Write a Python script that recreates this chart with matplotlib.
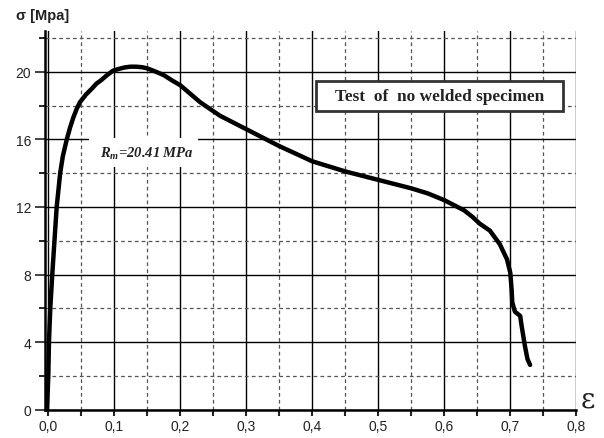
import numpy as np
import matplotlib
matplotlib.use("Agg")
import matplotlib.pyplot as plt
from matplotlib.patches import Rectangle
from matplotlib.ticker import MultipleLocator, FuncFormatter

plt.rcParams.update({
    "font.family": "Liberation Sans",
    "mathtext.fontset": "custom",
    "mathtext.it": "Liberation Serif:italic:bold",
    "mathtext.rm": "Liberation Serif:bold",
})

# strain / stress
strain = [-0.002, 0.0, 0.001, 0.003, 0.006, 0.0127, 0.018, 0.022, 0.028,
          0.033, 0.038, 0.043, 0.048, 0.057, 0.066, 0.073, 0.08, 0.089,
          0.098, 0.107, 0.115, 0.124, 0.133, 0.142, 0.15, 0.16, 0.175,
          0.187, 0.2, 0.215, 0.23, 0.245, 0.26, 0.28, 0.3, 0.325, 0.35,
          0.375, 0.4, 0.425, 0.45, 0.475, 0.5, 0.525, 0.55, 0.575, 0.6,
          0.615, 0.63, 0.643, 0.654, 0.669, 0.684, 0.695, 0.70, 0.702,
          0.703, 0.707, 0.715, 0.717, 0.722, 0.726, 0.73]
stress = [0.0, 2.0, 4.0, 6.0, 8.0, 12.0, 14.0, 15.0, 16.0,
          16.7, 17.3, 17.8, 18.2, 18.65, 19.0, 19.3, 19.5, 19.8,
          20.06, 20.17, 20.25, 20.3, 20.3, 20.27, 20.2, 20.05, 19.8,
          19.5, 19.2, 18.7, 18.2, 17.8, 17.4, 17.0, 16.6, 16.1, 15.6,
          15.15, 14.7, 14.4, 14.1, 13.85, 13.6, 13.35, 13.1, 12.8, 12.4,
          12.1, 11.8, 11.4, 11.0, 10.6, 9.8, 8.9, 8.1, 7.1,
          6.35, 5.8, 5.55, 5.0, 3.8, 3.0, 2.65]

x_ticks = [0.0, 0.1, 0.2, 0.3, 0.4, 0.5, 0.6, 0.7, 0.8]
y_ticks = [0, 4, 8, 12, 16, 20]

fig = plt.figure(figsize=(6.04, 4.39), dpi=100)
ax = fig.add_axes([45 / 604, 1 - 410.7 / 439, 531.3 / 604, 379 / 439])

ax.set_xlim(-0.005, 0.8)
ax.set_ylim(0, 22.43)

ax.xaxis.set_minor_locator(MultipleLocator(0.05))
ax.yaxis.set_minor_locator(MultipleLocator(2))
ax.set_xticks(x_ticks)
ax.set_yticks(y_ticks)
ax.xaxis.set_major_formatter(FuncFormatter(lambda v, p: f"{v:.1f}".replace(".", ",")))

# grid
ax.grid(which="major", color="black", lw=1.0, ls="-", zorder=1)
ax.grid(which="minor", color="#555555", lw=0.9, ls=(0, (3, 2.5)), zorder=1)
ax.set_axisbelow(True)

for s in ["top", "right"]:
    ax.spines[s].set_visible(False)
for s in ["left", "bottom"]:
    ax.spines[s].set_linewidth(1.8)

ax.tick_params(axis="y", which="major", direction="out", length=7, width=1.2,
               labelsize=10, colors="#222222", pad=3)
ax.tick_params(axis="y", which="minor", direction="out", length=4, width=1.2)
ax.tick_params(axis="x", which="both", direction="out", length=4, width=1.5,
               labelsize=10, colors="#222222", pad=3)

ax.plot(strain, stress, color="black", lw=3.2, solid_capstyle="round",
        solid_joinstyle="round", zorder=3)

# annotations
fig.text(16 / 604, 1 - 16 / 439, "σ [Mpa]", fontsize=10.5, fontweight="bold",
         color="#222222", va="center", ha="left")
fig.text(588 / 604, 1 - 400 / 439, "ε", fontsize=20, color="#222222",
         va="center", ha="center", family="DejaVu Serif")

# title box
ax.add_patch(Rectangle((0.4056, 17.7), 0.3744, 1.76, facecolor="white",
                       edgecolor="#333333", lw=2.0, zorder=4))
ax.text(0.593, 18.58, "Test  of  no welded specimen", family="Liberation Serif",
        fontweight="bold", fontsize=12.4, color="#222222", ha="center",
        va="center", zorder=5)

# R_m label on white patch
ax.add_patch(Rectangle((0.062, 14.34), 0.165, 1.76, facecolor="white",
                       edgecolor="none", zorder=2))
ax.text(0.078, 15.2, r"$R_m$=20.41 MPa", family="Liberation Serif",
        fontweight="bold", fontstyle="italic", fontsize=10.5, color="#222222",
        ha="left", va="center", zorder=5)

fig.savefig("out.png", dpi=100)
